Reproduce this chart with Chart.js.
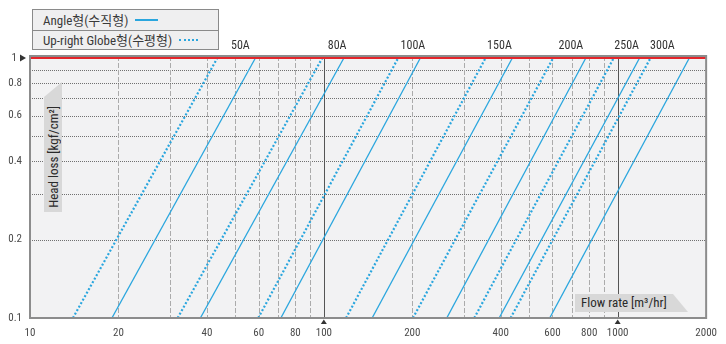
<!DOCTYPE html>
<html>
<head>
<meta charset="utf-8">
<script src="https://cdn.jsdelivr.net/npm/chart.js@4.4.1/dist/chart.umd.min.js"></script>
<style>
html,body{margin:0;padding:0;background:#fff;}
#wrap{position:relative;width:726px;height:344px;overflow:hidden;}
#c{position:absolute;left:0;top:0;}
.nf{font-family:'Liberation Sans Narrow','Roboto Condensed','Liberation Sans','Noto Sans CJK KR',sans-serif;}
#legend{position:absolute;left:32px;top:9px;width:185px;height:39px;border:1px solid #8a8a8a;background:#efeff0;font-size:13px;color:#3a3a3a;}
#legend .row{height:19.5px;display:flex;align-items:center;padding-left:10px;box-sizing:border-box;white-space:nowrap;}
#legend .row+.row{border-top:1px solid #8a8a8a;}
#legend .sw{display:inline-block;height:0;margin-left:7px;}
#ytag{position:absolute;left:44px;top:82px;width:18px;height:130px;background:#d8d8d8;clip-path:polygon(0 15px,100% 0,100% 100%,0 100%);display:flex;align-items:flex-end;justify-content:center;}
#ytag span{writing-mode:vertical-rl;transform:rotate(180deg);font-size:13px;color:#2a2a2a;white-space:nowrap;padding-top:4px;}
#xtag{position:absolute;left:575px;top:294px;width:113px;height:18px;background:#d8d8d8;clip-path:polygon(0 0,98px 0,100% 100%,0 100%);font-size:13px;color:#2a2a2a;line-height:18px;padding-left:6px;box-sizing:border-box;white-space:nowrap;}
</style>
</head>
<body>
<div id="wrap">
<canvas id="c" width="726" height="344"></canvas>
<div id="legend" class="nf"></div>
<div id="ytag" class="nf"><span id="ytitle"></span></div>
<div id="xtag" class="nf"></div>
</div>
<script>
// ---- data ----
const sizes = ['50A','80A','100A','150A','200A','250A','300A'];
// Angle type (solid): flow rate [m3/hr] at head loss 0.1 and 1 kgf/cm2
const angleFlowAtLow  = [19, 38, 71.4, 146, 262, 395, 587];
const angleFlowAtHigh = [58.5, 117, 213, 438, 779, 1187, 1753];
// Up-right Globe type (dotted)
const globeFlowAtLow  = [14, 31.8, 59.8, 119, 201, 325, 432];
const globeFlowAtHigh = [43.4, 98.8, 179, 355, 603, 969, 1293];
const headLossEnds = [0.1, 1];
// flow positions of the size captions along the top
const sizeLabelFlow = [52, 111, 201, 396, 693, 1073, 1420];
const seriesNames = ['Angle형(수직형)', 'Up-right Globe형(수평형)'];
const xTitle = 'Flow rate [m³/hr]';
const yTitle = 'Head loss [kgf/cm²]';
const xTickValues = [10,20,40,60,80,100,200,400,600,800,1000,2000];
const xGridValues = [20,30,40,50,60,70,80,90,200,300,400,500,600,700,800,900];
const xMajorValues = [100,1000];
const yTickValues = [0.1,0.2,0.4,0.6,0.8,1];
const yTickLabels = ['0.1','0.2','0.4','0.6','0.8','1  '];
const yGridValues = [0.2,0.3,0.4,0.5,0.6,0.7,0.8,0.9];
const refHeadLoss = 1;

const BLUE = '#2aa6de';
const FONT = "'Liberation Sans Narrow','Roboto Condensed','Liberation Sans',sans-serif";

// legend / titles (HTML text)
const lg = document.getElementById('legend');
seriesNames.forEach((n,i)=>{
  const r = document.createElement('div'); r.className='row';
  const t = document.createElement('span'); t.textContent = n; r.appendChild(t);
  const s = document.createElement('span'); s.className='sw';
  if(i===0){ s.style.width='23px'; s.style.borderTop='2px solid '+BLUE; }
  else { s.style.width='19px'; s.style.borderTop='2px dotted '+BLUE; }
  r.appendChild(s); lg.appendChild(r);
});
document.getElementById('ytitle').textContent = yTitle;
document.getElementById('xtag').textContent = xTitle;

const datasets = [];
sizes.forEach((s,i)=>{
  datasets.push({label: s+' Globe', data:[{x:globeFlowAtLow[i],y:headLossEnds[0]},{x:globeFlowAtHigh[i],y:headLossEnds[1]}],
    borderColor: BLUE, borderWidth:2.2, borderDash:[2,2], pointRadius:0, showLine:true, fill:false});
  datasets.push({label: s+' Angle', data:[{x:angleFlowAtLow[i],y:headLossEnds[0]},{x:angleFlowAtHigh[i],y:headLossEnds[1]}],
    borderColor: BLUE, borderWidth:1.3, pointRadius:0, showLine:true, fill:false});
});

const decor = {
  id:'decor',
  beforeDatasetsDraw(chart){
    const {ctx, chartArea:a, scales:{x,y}} = chart;
    ctx.save();
    ctx.fillStyle = '#f2f2f3';
    ctx.fillRect(a.left,a.top,a.right-a.left,a.bottom-a.top);
    ctx.lineWidth = 1;
    ctx.strokeStyle = '#707070'; ctx.setLineDash([1,1]);
    yGridValues.forEach(v=>{
      const p = Math.round(y.getPixelForValue(v))+0.5;
      ctx.beginPath(); ctx.moveTo(a.left,p); ctx.lineTo(a.right,p); ctx.stroke();
    });
    ctx.strokeStyle = '#ababab'; ctx.setLineDash([5,2]);
    xGridValues.forEach(v=>{
      const p = Math.round(x.getPixelForValue(v))+0.5;
      ctx.beginPath(); ctx.moveTo(p,a.top); ctx.lineTo(p,a.bottom); ctx.stroke();
    });
    ctx.strokeStyle = '#555'; ctx.setLineDash([]);
    xMajorValues.forEach(v=>{
      const p = Math.round(x.getPixelForValue(v))+0.5;
      ctx.beginPath(); ctx.moveTo(p,a.top); ctx.lineTo(p,a.bottom); ctx.stroke();
    });
    ctx.restore();
  },
  afterDatasetsDraw(chart){
    const {ctx, chartArea:a, scales:{x,y}} = chart;
    ctx.save();
    const ry = y.getPixelForValue(refHeadLoss);
    ctx.strokeStyle = '#e3262b'; ctx.lineWidth = 2;
    ctx.beginPath(); ctx.moveTo(a.left,ry); ctx.lineTo(a.right,ry); ctx.stroke();
    ctx.strokeStyle = '#8c8c8c'; ctx.lineWidth = 2;
    ctx.strokeRect(a.left, a.top, a.right-a.left, a.bottom-a.top);
    ctx.fillStyle = '#333';
    ctx.beginPath(); ctx.moveTo(a.left-4, ry); ctx.lineTo(a.left-10, ry-3.5); ctx.lineTo(a.left-10, ry+3.5); ctx.closePath(); ctx.fill();
    xMajorValues.forEach(v=>{
      const p = x.getPixelForValue(v);
      ctx.beginPath(); ctx.moveTo(p, a.bottom+1.5); ctx.lineTo(p-3, a.bottom+6); ctx.lineTo(p+3, a.bottom+6); ctx.closePath(); ctx.fill();
    });
    ctx.restore();
  }
};

new Chart(document.getElementById('c'), {
  type:'scatter',
  data:{datasets},
  options:{
    responsive:false, animation:false, devicePixelRatio:1,
    layout:{padding:{left:0,right:15,top:0,bottom:0}},
    plugins:{legend:{display:false}, tooltip:{enabled:false}},
    scales:{
      x:{type:'logarithmic', position:'bottom', min:10, max:2000,
        afterBuildTicks(s){ s.ticks = xTickValues.map(v=>({value:v})); },
        afterFit(s){ s.height = 26; },
        grid:{display:false, drawTicks:false}, border:{display:false},
        ticks:{autoSkip:false, maxRotation:0, padding:9, color:'#4a4a4a', font:{family:FONT,size:11},
          callback:(v)=>String(v)}},
      top:{type:'logarithmic', position:'top', min:10, max:2000,
        afterBuildTicks(s){ s.ticks = sizeLabelFlow.map(v=>({value:v})); },
        afterFit(s){ s.height = 56; },
        grid:{display:false, drawTicks:false}, border:{display:false},
        ticks:{autoSkip:false, maxRotation:0, padding:3, color:'#333', font:{family:FONT,size:12},
          callback:(v,i)=>sizes[i]}},
      y:{type:'logarithmic', position:'left', min:0.1, max:1.018,
        afterBuildTicks(s){ s.ticks = yTickValues.map(v=>({value:v})); },
        afterFit(s){ s.width = 30; },
        grid:{display:false, drawTicks:false}, border:{display:false},
        ticks:{autoSkip:false, padding:8, color:'#4a4a4a', font:{family:FONT,size:11},
          callback:(v,i)=>yTickLabels[i]}}
    }
  },
  plugins:[decor]
});
</script>
</body>
</html>
